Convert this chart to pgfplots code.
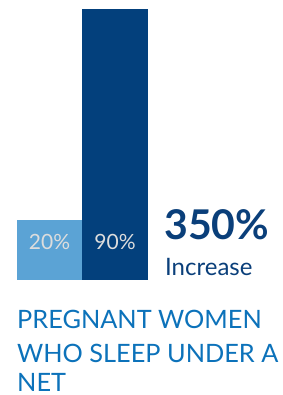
\documentclass[border=0pt]{standalone}
\usepackage{pgfplots}
\pgfplotsset{compat=1.18}
\usepackage{fontspec}
\setmainfont{Lato}
\definecolor{lightbar}{RGB}{91,163,213}
\definecolor{darkbar}{RGB}{3,64,124}
\definecolor{titleblue}{RGB}{12,114,186}
\definecolor{navytext}{RGB}{10,63,122}
\definecolor{lbl}{RGB}{221,221,221}
\begin{document}
\begin{tikzpicture}
\begin{axis}[
  scale only axis, width=283pt, height=395pt,
  xmin=0, xmax=283, ymin=-38.19, ymax=92.99,
  hide axis, clip=false,
  ybar, bar width=65.5pt, bar shift=0pt,
]
\path (rel axis cs:0,0) rectangle (rel axis cs:1,1);
\addplot[fill=lightbar, draw=none] coordinates {(49.5,20)};
\addplot[fill=darkbar, draw=none] coordinates {(115,90)};
\node[anchor=base, inner sep=0, text=lbl, font=\fontsize{21}{21}\selectfont] at (rel axis cs:0.1749,0.3696) {20\%};
\node[anchor=base, inner sep=0, text=lbl, font=\fontsize{21}{21}\selectfont] at (rel axis cs:0.4064,0.3696) {90\%};
\node[anchor=base west, inner sep=0, text=navytext, font=\fontsize{41}{41}\selectfont\bfseries] at (rel axis cs:0.580,0.3949) {350\%};
\node[anchor=base west, inner sep=0, text=navytext, font=\fontsize{24}{24}\selectfont] at (rel axis cs:0.583,0.3013) {Increase};
\node[anchor=base west, inner sep=0, text=titleblue, font=\fontsize{25.3}{25.3}\selectfont] at (rel axis cs:0.0601,0.1671) {PREGNANT WOMEN};
\node[anchor=base west, inner sep=0, text=titleblue, font=\fontsize{25.3}{25.3}\selectfont] at (rel axis cs:0.0601,0.0835) {WHO SLEEP UNDER A};
\node[anchor=base west, inner sep=0, text=titleblue, font=\fontsize{25.3}{25.3}\selectfont] at (rel axis cs:0.0601,0.0101) {NET};
\end{axis}
\end{tikzpicture}
\end{document}
